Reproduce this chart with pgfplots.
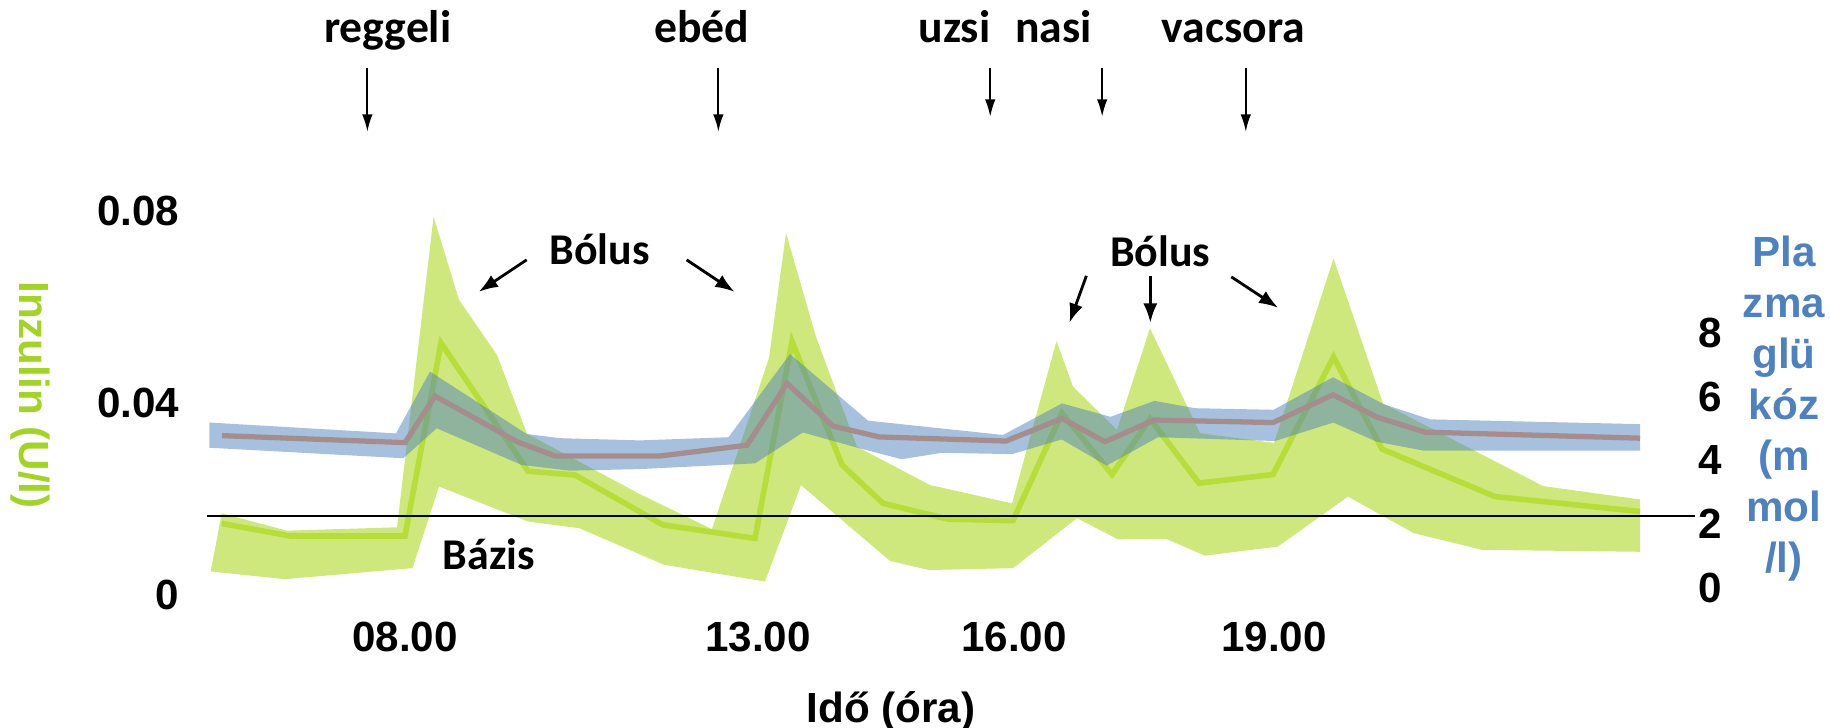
\documentclass[border=0pt]{standalone}
\usepackage{fontspec}
\setmainfont{Liberation Sans}
\newfontfamily\carl{Carlito}
\usepackage{pgfplots}
\pgfplotsset{compat=1.18}
\usetikzlibrary{arrows.meta}
\definecolor{gband}{RGB}{207,232,125}
\definecolor{gline}{RGB}{182,221,58}
\definecolor{bband}{RGB}{79,129,189}
\definecolor{brline}{RGB}{166,141,141}
\definecolor{inzgreen}{RGB}{163,211,43}
\definecolor{glublue}{RGB}{79,129,189}
\begin{document}
\begin{tikzpicture}
\path[use as bounding box] (0,0) rectangle (18.3,7.28);
% ---------- insulin axis (left) ----------
\begin{axis}[at={(1.8cm,1.33cm)}, anchor=south west, scale only axis,
  width=15.2cm, height=3.84cm, xmin=180, xmax=1700, ymin=0, ymax=0.08,
  clip=false, axis line style={draw=none}, tick style={draw=none}, major tick length=0pt,
  scaled y ticks=false, scaled x ticks=false,
  xtick={405,758,1014,1274}, xticklabels={08.00,13.00,16.00,19.00},
  ytick={0,0.04,0.08}, yticklabels={0,0.04,0.08},
  ticklabel style={font=\fontsize{12}{14}\selectfont\bfseries},
  xticklabel style={anchor=base, inner sep=0pt, yshift=-0.57cm},
  yticklabel style={anchor=east, inner sep=0pt},
  xlabel={Idő (óra)},
  every axis x label/.style={at={(axis description cs:0.4678,0)}, anchor=base, yshift=-1.28cm, font=\fontsize{12}{14}\selectfont\bfseries},
  ylabel={Inzulin (U/l)},
  every axis y label/.style={at={(axis description cs:-0.0987,0.521)}, rotate=-90, anchor=center, font=\fontsize{12}{14}\selectfont\bfseries, text=inzgreen},
]
% insulin band: upper edge, then lower edge reversed
\addplot[fill=gband, draw=none] coordinates {
(221.7,0.0170) (287,0.0134) (397,0.0141) (433.6,0.0788) (459,0.0615) (497,0.0500)
(527,0.0336) (640,0.0210) (712,0.0137) (769,0.0494) (786,0.0754) (816,0.0538)
(837,0.0420) (857,0.0309) (930,0.0229) (1012,0.0191) (1056.5,0.0529) (1073,0.0434)
(1117,0.0344) (1150,0.0556) (1200,0.0337) (1274,0.0317) (1333.5,0.0701) (1383,0.0399)
(1543,0.0227) (1640,0.0199)
(1640,0.0090) (1482,0.0094) (1413.5,0.0129) (1348,0.0205) (1278,0.0101) (1205,0.0082)
(1166,0.0117) (1118,0.0116) (1077,0.0160) (1013,0.0056) (929,0.0052) (890,0.0071)
(801,0.0229) (765,0.0028) (664,0.0063) (579.5,0.0139) (528,0.0153) (439,0.0226)
(412.5,0.0056) (285,0.0033) (210.7,0.0049)} -- cycle;
\addplot[gline, line width=1.6pt, line join=miter] coordinates {
(221.7,0.0149) (290,0.0123) (405,0.0123) (441,0.0525) (528,0.0258) (575,0.0250)
(663,0.0146) (755,0.0118) (792,0.0528) (842,0.0271) (883,0.0191) (948,0.0158)
(1013,0.0155) (1062,0.0379) (1112,0.0251) (1150,0.0367) (1199,0.0233) (1273,0.0251)
(1333.5,0.0496) (1382,0.0304) (1495,0.0205) (1640,0.0174)};
\addplot[black, line width=0.6pt] coordinates {(207,0.01646) (1695,0.01646)};
\end{axis}
% ---------- glucose axis (right) ----------
\begin{axis}[at={(1.8cm,1.33cm)}, anchor=south west, scale only axis,
  width=15.2cm, height=3.84cm, xmin=180, xmax=1700, ymin=-0.2196, ymax=11.827,
  clip=false, axis x line=none, axis y line*=right, axis line style={draw=none},
  tick style={draw=none}, major tick length=0pt,
  ytick={0,2,4,6,8}, yticklabels={0,2,4,6,8},
  ticklabel style={font=\fontsize{12}{14}\selectfont\bfseries},
  yticklabel style={anchor=west, inner sep=0pt, xshift=-0.02cm},
]
% glucose band: upper edge, then lower edge reversed
\addplot[fill=bband, fill opacity=0.5, draw=none] coordinates {
(209.3,5.19) (396,4.85) (430,6.79) (526.7,4.83) (560,4.70) (640,4.63) (728.5,4.73)
(790,7.34) (868,5.25) (1003,4.80) (1062,5.79) (1110.5,5.37) (1154.5,5.87) (1195,5.64)
(1273.5,5.59) (1333,6.61) (1383.3,5.77) (1430,5.29) (1640,5.14)
(1640,4.31) (1423.5,4.31) (1376.7,4.59) (1333.3,5.19) (1275,4.61) (1158,4.73)
(1106.7,3.84) (1061.7,4.66) (1012,4.20) (942,4.24) (901.5,4.04) (854,4.43) (803,4.88)
(755,3.91) (640,3.73) (570,3.68) (521.7,3.86) (436.7,5.01) (403.3,4.07) (209.3,4.40)} -- cycle;
\addplot[brline, line width=1.5pt, line join=miter] coordinates {
(222,4.78) (405,4.56) (435,6.02) (517,4.59) (555,4.14) (660,4.14) (747,4.48) (787,6.42)
(833,5.08) (879,4.74) (1006,4.61) (1062,5.32) (1105,4.59) (1154,5.27) (1273,5.19)
(1333,6.06) (1377,5.36) (1425,4.89) (1640,4.70)};
\end{axis}
% ---------- annotations in pixel coordinates ----------
\begin{scope}[x=0.01cm, y=-0.01cm, shift={(0,7.28cm)}]
\begin{scope}[font=\carl\bfseries\fontsize{13}{15}\selectfont]
\node[anchor=base, inner sep=0pt] at (388,42.7) {reggeli};
\node[anchor=base, inner sep=0pt] at (702,42.7) {ebéd};
\node[anchor=base, inner sep=0pt] at (955,42.7) {uzsi};
\node[anchor=base, inner sep=0pt] at (1054,42.7) {nasi};
\node[anchor=base, inner sep=0pt] at (1234,42.7) {vacsora};
\end{scope}
\begin{scope}[line width=0.6pt, -{Latex[length=5pt,width=3pt]}]
\draw (367.6,68) -- (367.6,132);
\draw (718.8,68) -- (718.8,132);
\draw (990.8,68) -- (990.8,117);
\draw (1102.8,68) -- (1102.8,117);
\draw (1246.5,68) -- (1246.5,132);
\end{scope}
\begin{scope}[font=\carl\bfseries\fontsize{12.5}{15}\selectfont]
\node[anchor=base, inner sep=0pt] at (600,265) {Bólus};
\node[anchor=base, inner sep=0pt] at (1161,267) {Bólus};
\node[anchor=base, inner sep=0pt] at (489,570) {Bázis};
\end{scope}
\begin{scope}[line width=0.8pt, -{Latex[length=5.5pt,width=4pt]}]
\draw (527,260) -- (479,292);
\draw (687,260) -- (735,292);
\draw (1087,276) -- (1070,323);
\draw (1151,276) -- (1151,323);
\draw (1232,277) -- (1279,308);
\end{scope}
\node[anchor=north, inner sep=0pt, align=center, text=glublue,
  font=\fontsize{12}{14.54}\selectfont\bfseries] at (1785,235)
  {Pla\\zma\\glü\\kóz\\(m\\mol\\/l)};
\end{scope}
\end{tikzpicture}
\end{document}
